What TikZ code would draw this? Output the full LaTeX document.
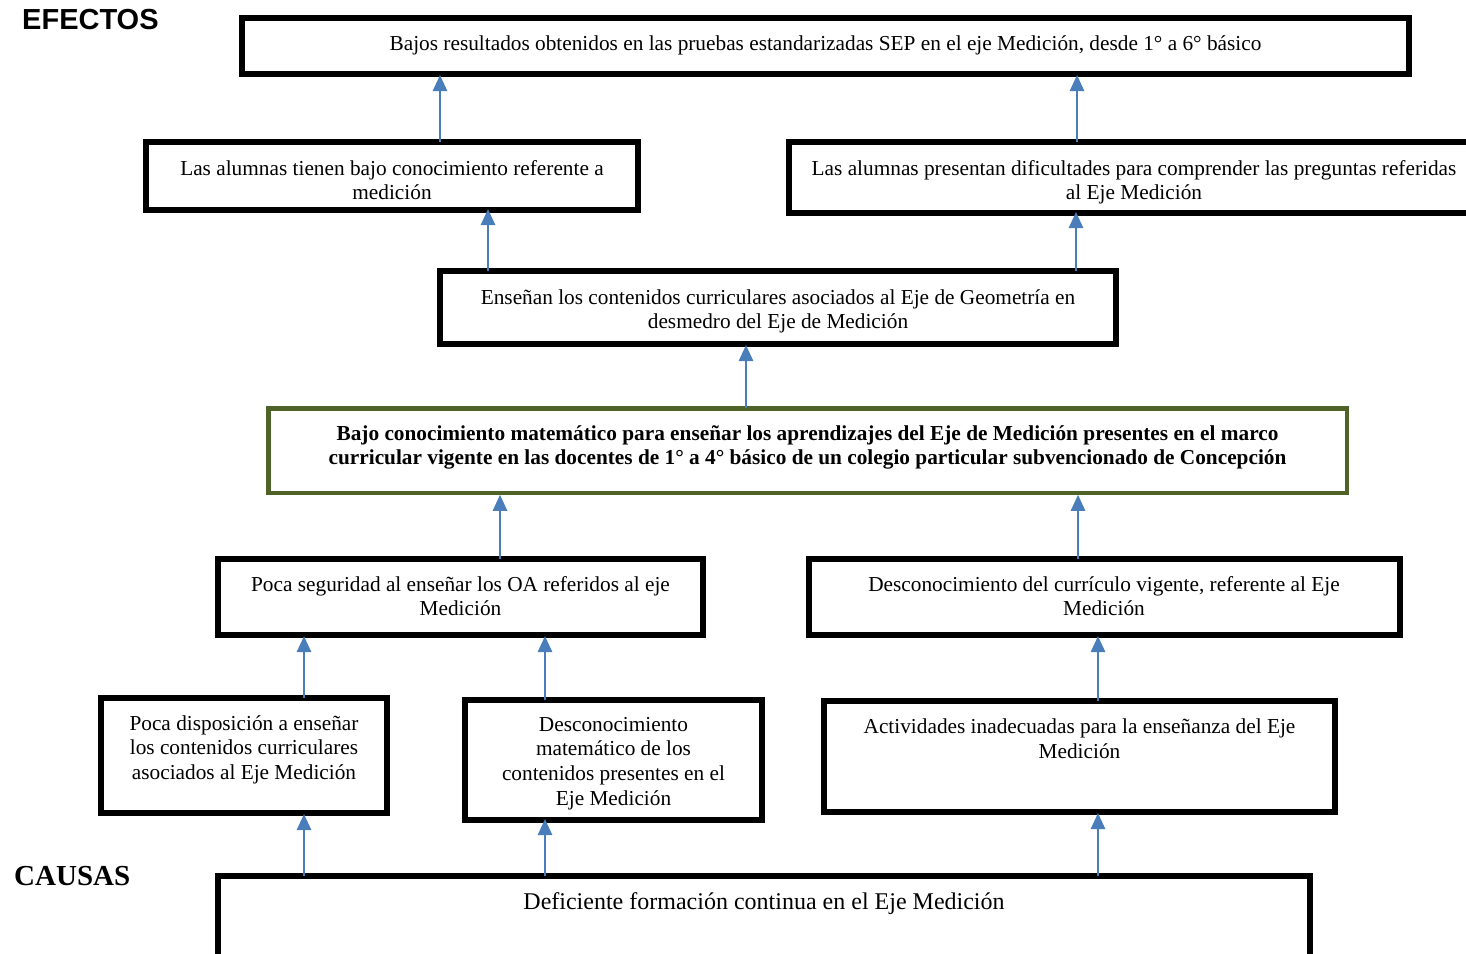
\documentclass[tikz,border=0pt]{standalone}
\usepackage{fontspec}
\setmainfont{Liberation Serif}
\newfontfamily\arialfont{Liberation Sans}
\usetikzlibrary{arrows.meta}
\definecolor{arrblue}{HTML}{4A7EBB}
\definecolor{olive}{HTML}{4F6228}
\tikzset{
  box/.style={draw=black, line width=6pt, rectangle, inner sep=0pt, outer sep=0pt, fill=white},
  greenbox/.style={draw=olive, line width=4.5pt, rectangle, inner sep=0pt, outer sep=0pt, fill=white},
  txt/.style={anchor=north, inner sep=0pt, align=center, font=\fontsize{21.3}{24.6}\selectfont},
  arr/.style={draw=arrblue, line width=2.6pt, -{Triangle[width=14pt,length=16pt]}}
}
\begin{document}
\begin{tikzpicture}[x=1pt,y=-1pt]
\clip (0,0) rectangle (1466,953);
\fill[white] (0,0) rectangle (1466,953);

% boxes
\node[box, minimum width=1167pt, minimum height=56pt] (top) at (825.5,46) {};
\node[box, minimum width=492pt, minimum height=68pt] (L2) at (392,176) {};
\node[box, minimum width=708pt, minimum height=71pt] (R2) at (1143,177.5) {};
\node[box, minimum width=676pt, minimum height=73pt] (M3) at (778,307.5) {};
\node[greenbox, minimum width=1078.5pt, minimum height=84.5pt] (G) at (807.5,450.5) {};
\node[box, minimum width=485pt, minimum height=76pt] (L5) at (460.5,597) {};
\node[box, minimum width=591pt, minimum height=76pt] (R5) at (1104.5,597) {};
\node[box, minimum width=286pt, minimum height=115pt] (C1) at (244,755.5) {};
\node[box, minimum width=297pt, minimum height=120pt] (C2) at (613.5,760) {};
\node[box, minimum width=511pt, minimum height=111pt] (C3) at (1079.5,756.5) {};
\node[box, minimum width=1092pt, minimum height=100pt] (B) at (764,925.5) {};

% texts
\node[txt] (tTop) at (825.5,35) {Bajos resultados obtenidos en las pruebas estandarizadas SEP en el eje Medición, desde 1° a 6° básico};
\node[txt] (tL2) at (392,160) {Las alumnas tienen bajo conocimiento referente a\\medición};
\node[txt] (tR2) at (1134,160) {Las alumnas presentan dificultades para comprender las preguntas referidas\\al Eje Medición};
\node[txt] (tM3) at (778,289) {Enseñan los contenidos curriculares asociados al Eje de Geometría en\\desmedro del Eje de Medición};
\node[txt, font=\fontsize{21.3}{24.6}\selectfont\bfseries] (tG) at (807.5,425) {Bajo conocimiento matemático para enseñar los aprendizajes del Eje de Medición presentes en el marco\\curricular vigente en las docentes de 1° a 4° básico de un colegio particular subvencionado de Concepción};
\node[txt] (tL5) at (460.5,576) {Poca seguridad al enseñar los OA referidos al eje\\Medición};
\node[txt] (tR5) at (1104,576) {Desconocimiento del currículo vigente, referente al Eje\\Medición};
\node[txt] (tC1) at (244,715) {Poca disposición a enseñar\\los contenidos curriculares\\asociados al Eje Medición};
\node[txt] (tC2) at (613.5,717) {Desconocimiento\\matemático de los\\contenidos presentes en el\\Eje Medición};
\node[txt] (tC3) at (1079.5,719) {Actividades inadecuadas para la enseñanza del Eje\\Medición};
\node[txt, font=\fontsize{24}{28}\selectfont] (tB) at (764,892) {Deficiente formación continua en el Eje Medición};

% side labels
\node[anchor=base west, inner sep=0pt, font=\arialfont\bfseries\fontsize{29}{34}\selectfont] (ef) at (22,29) {EFECTOS};
\node[anchor=base west, inner sep=0pt, font=\bfseries\fontsize{29}{34}\selectfont] (ca) at (14,885) {CAUSAS};

% arrow columns
\coordinate (x1) at (440,0);
\coordinate (x2) at (1077,0);
\coordinate (x3) at (488,0);
\coordinate (x4) at (1076,0);
\coordinate (x5) at (746,0);
\coordinate (x6) at (500,0);
\coordinate (x7) at (1078,0);
\coordinate (x8) at (304,0);
\coordinate (x9) at (545,0);
\coordinate (x10) at (1098,0);

\draw[arr] (L2.north -| x1) -- ([yshift=-1pt]top.south -| x1);
\draw[arr] (R2.north -| x2) -- ([yshift=-1pt]top.south -| x2);
\draw[arr] (M3.north -| x3) -- ([yshift=1pt]L2.south -| x3);
\draw[arr] (M3.north -| x4) -- ([yshift=1pt]R2.south -| x4);
\draw[arr] (G.north -| x5) -- ([yshift=-1pt]M3.south -| x5);
\draw[arr] (L5.north -| x6) -- ([yshift=-2pt]G.south -| x6);
\draw[arr] (R5.north -| x7) -- ([yshift=-2pt]G.south -| x7);
\draw[arr] (C1.north -| x8) -- ([yshift=-1pt]L5.south -| x8);
\draw[arr] (C2.north -| x9) -- ([yshift=-1pt]L5.south -| x9);
\draw[arr] (C3.north -| x10) -- ([yshift=-1pt]R5.south -| x10);
\draw[arr] (B.north -| x8) -- ([yshift=-1pt]C1.south -| x8);
\draw[arr] (B.north -| x9) -- ([yshift=1pt]C2.south -| x9);
\draw[arr] (B.north -| x10) -- ([yshift=-1pt]C3.south -| x10);
\end{tikzpicture}
\end{document}
